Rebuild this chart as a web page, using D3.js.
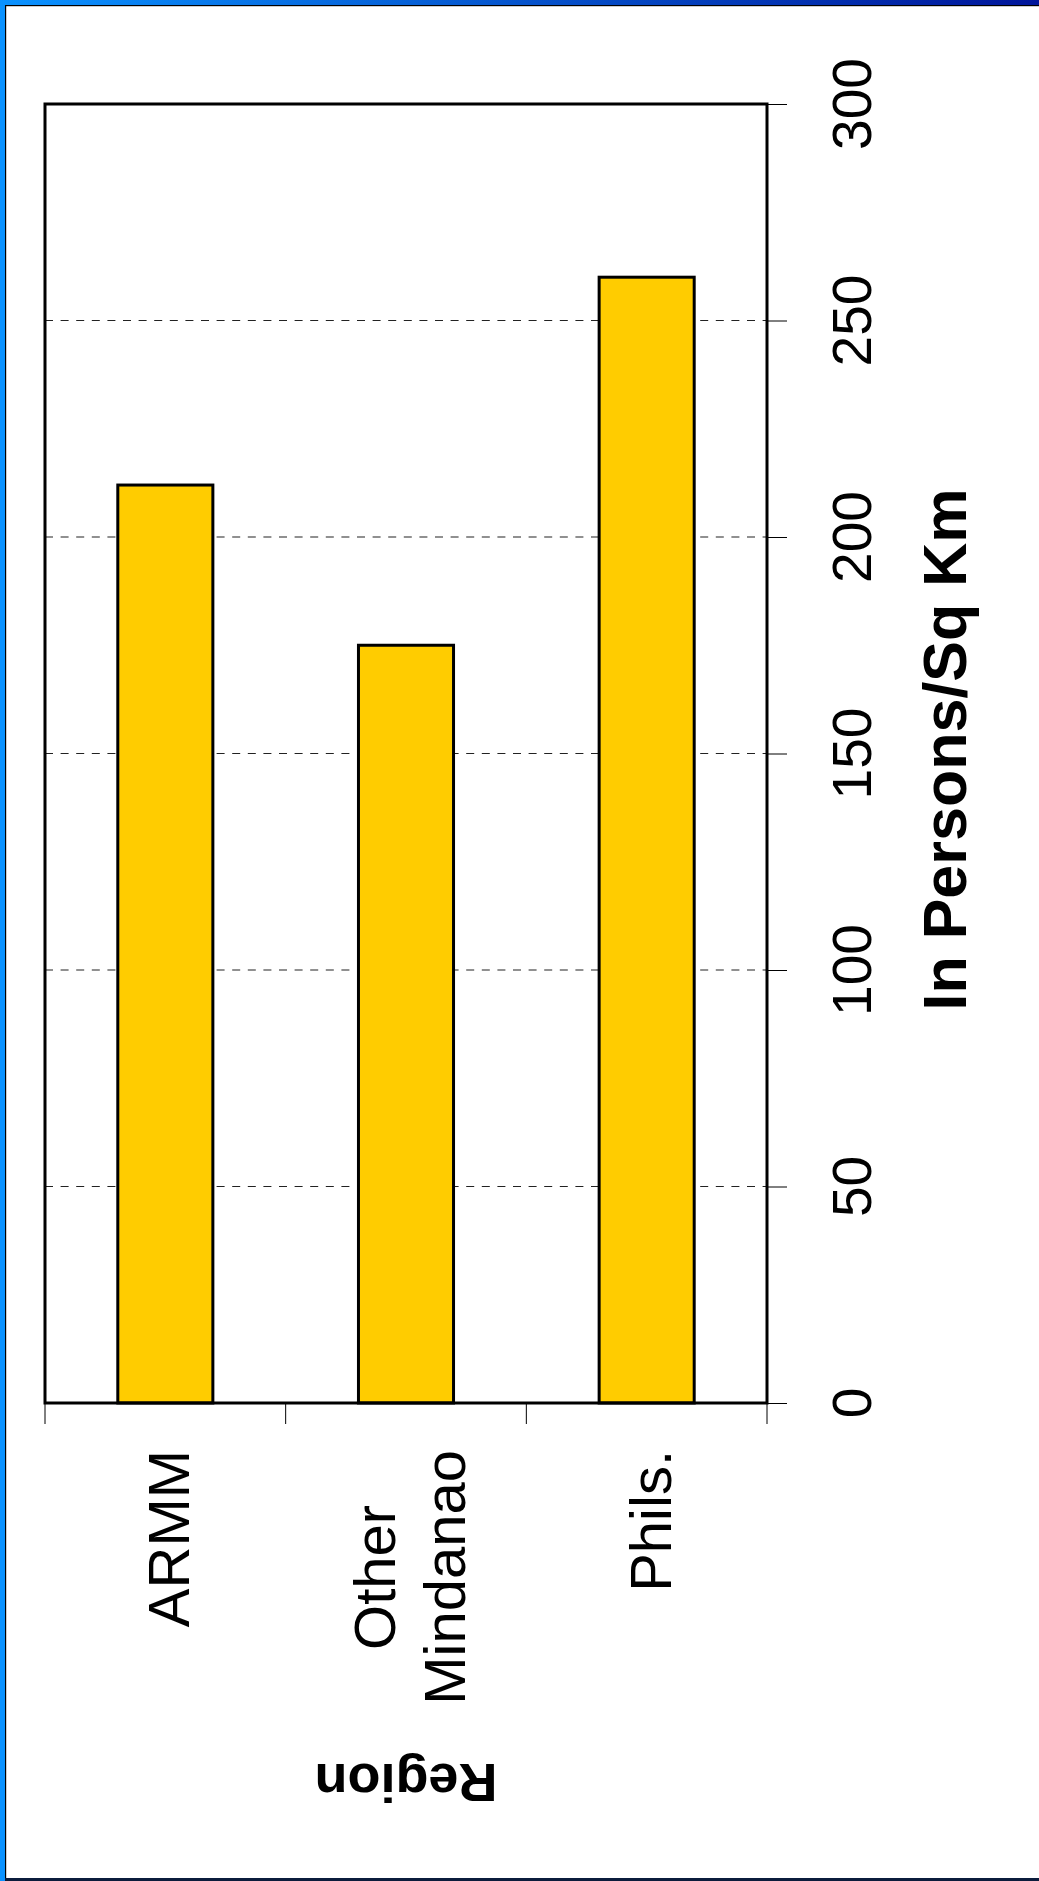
<!DOCTYPE html>
<html>
<head>
<meta charset="utf-8">
<script src="https://cdn.jsdelivr.net/npm/d3@7"></script>
<style>
  html, body { margin: 0; padding: 0; background: #ffffff; }
  svg { display: block; }
  text { font-family: "Liberation Sans", Arial, sans-serif; fill: #000; }
</style>
</head>
<body>
<svg id="chart" width="1039" height="1881"></svg>
<script>
// ---- data ----
const categories = [["ARMM"], ["Other", "Mindanao"], ["Phils."]];
const categoryKeys = ["ARMM", "Other Mindanao", "Phils."];
const values = [212, 175, 260];
const valueTicks = [0, 50, 100, 150, 200, 250, 300];
const gridTicks = [50, 100, 150, 200, 250];
const valueTitle = "In Persons/Sq Km";
const categoryTitle = "Region";

(function () {
const W = 1039, H = 1881;
const svg = d3.select("#chart");

// ---- slide frame ----
const defs = svg.append("defs");
const grad = defs.append("linearGradient").attr("id", "topgrad")
  .attr("x1", "0%").attr("x2", "100%").attr("y1", "0%").attr("y2", "0%");
grad.append("stop").attr("offset", "0%").attr("stop-color", "#0a92ff");
grad.append("stop").attr("offset", "100%").attr("stop-color", "#00159a");

svg.append("rect").attr("x", 0).attr("y", 0).attr("width", W).attr("height", H).attr("fill", "#fff");
svg.append("rect").attr("x", 0).attr("y", 0).attr("width", 5).attr("height", H).attr("fill", "#0a92ff");
svg.append("rect").attr("x", 0).attr("y", 0).attr("width", W).attr("height", 5).attr("fill", "url(#topgrad)");
svg.append("rect").attr("x", 5).attr("y", 5).attr("width", W - 5).attr("height", 1.2).attr("fill", "#000");
svg.append("rect").attr("x", 5).attr("y", 5).attr("width", 1.2).attr("height", H - 5).attr("fill", "#000");
svg.append("rect").attr("x", 5).attr("y", H - 3).attr("width", W - 5).attr("height", 3).attr("fill", "#0b1c3c");

// ---- plot area ----
const pLeft = 45, pRight = 767, pTop = 104, pBottom = 1403;

const x = d3.scaleBand().domain(categoryKeys).range([pLeft, pRight])
  .paddingInner(0.605).paddingOuter(0.3025);
const xStep = d3.scaleBand().domain(categoryKeys).range([pLeft, pRight]).padding(0);
const y = d3.scaleLinear().domain([0, 300]).range([pBottom, pTop]);

// gridlines
svg.append("g").selectAll("line").data(gridTicks).join("line")
  .attr("x1", pLeft).attr("x2", pRight)
  .attr("y1", d => y(d)).attr("y2", d => y(d))
  .attr("stroke", "#222").attr("stroke-width", 1.1)
  .attr("stroke-dasharray", "8,7.6");

// bars
svg.append("g").selectAll("rect").data(values).join("rect")
  .attr("x", (d, i) => x(categoryKeys[i]))
  .attr("width", x.bandwidth())
  .attr("y", d => y(d))
  .attr("height", d => y(0) - y(d))
  .attr("fill", "#FFCC00")
  .attr("stroke", "#000").attr("stroke-width", 3);

// frame
svg.append("rect").attr("x", pLeft).attr("y", pTop)
  .attr("width", pRight - pLeft).attr("height", pBottom - pTop)
  .attr("fill", "none").attr("stroke", "#000").attr("stroke-width", 3);

// value axis ticks (right side)
const yAxis = d3.axisRight(y).tickValues(valueTicks).tickSize(20).tickFormat("");
const gy = svg.append("g").attr("transform", `translate(${pRight},0)`).call(yAxis);
gy.select(".domain").remove();
gy.selectAll(".tick line").attr("stroke", "#000").attr("stroke-width", 1);

// category axis ticks (below)
const catBounds = categoryKeys.map(k => xStep(k)).concat([pRight]);
svg.append("g").selectAll("line").data(catBounds).join("line")
  .attr("x1", d => d).attr("x2", d => d)
  .attr("y1", pBottom).attr("y2", pBottom + 21)
  .attr("stroke", "#000").attr("stroke-width", 1);

// value tick labels, rotated
svg.append("g").selectAll("text").data(valueTicks).join("text")
  .attr("transform", d => `translate(871,${y(d)}) rotate(-90)`)
  .attr("text-anchor", "middle")
  .attr("font-size", 55)
  .text(d => d);

// category labels, rotated
const labelTop = 1450, lineGap = 70;
categories.forEach((lines, i) => {
  const cx = x(categoryKeys[i]) + x.bandwidth() / 2;
  const g = svg.append("g");
  const texts = lines.map(ln => g.append("text")
    .attr("font-size", 58)
    .attr("text-anchor", "middle")
    .text(ln));
  const maxLen = d3.max(texts, t => t.node().getComputedTextLength());
  const cy = labelTop + maxLen / 2;
  texts.forEach((t, j) => {
    const bx = cx + (j - (lines.length - 1) / 2) * lineGap + 24;
    t.attr("transform", `translate(${bx},${cy}) rotate(-90)`);
  });
});

// category axis title (upside down)
svg.append("text")
  .attr("transform", `translate(${(pLeft + pRight) / 2},1764) rotate(180)`)
  .attr("text-anchor", "middle")
  .attr("font-size", 54).attr("font-weight", "bold")
  .text(categoryTitle);

// value axis title
svg.append("text")
  .attr("transform", `translate(966,${(pTop + pBottom) / 2 - 4}) rotate(-90)`)
  .attr("text-anchor", "middle")
  .attr("font-size", 61).attr("font-weight", "bold")
  .text(valueTitle);
})();
</script>
</body>
</html>
